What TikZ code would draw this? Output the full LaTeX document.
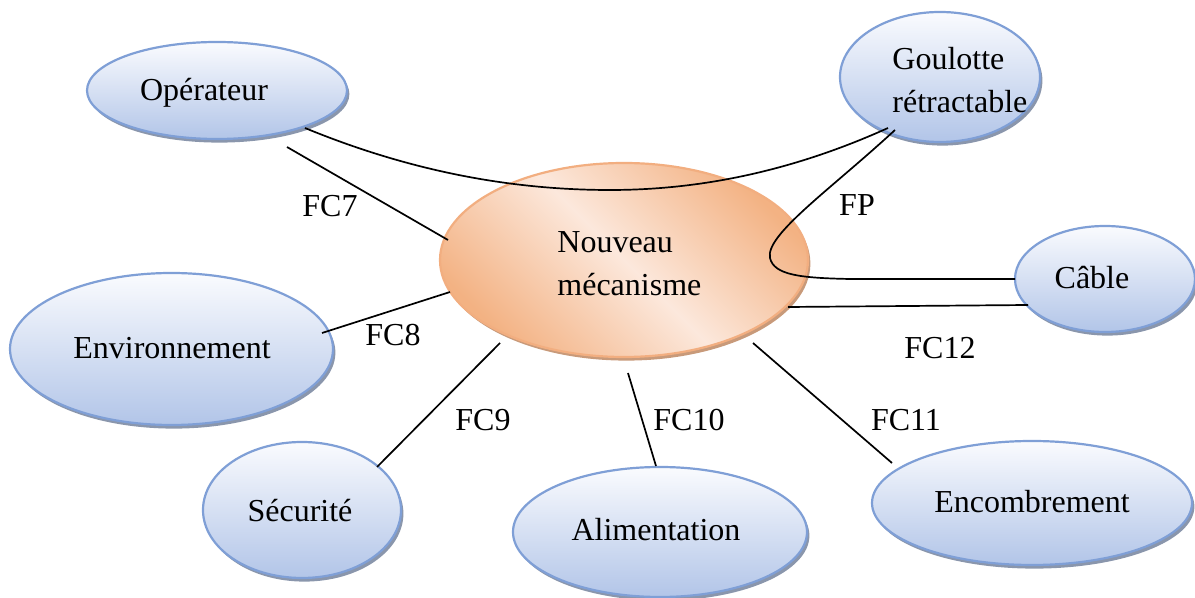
\documentclass[tikz,border=0pt]{standalone}
\usepackage{fontspec}
\setmainfont{Liberation Serif}
\usetikzlibrary{shapes.geometric,shadows,calc}
\definecolor{bluedge}{HTML}{7F9FD6}
\definecolor{bluetop}{HTML}{FAFBFE}
\definecolor{bluebot}{HTML}{B2C5E8}
\definecolor{orgedge}{HTML}{F2AE80}
\definecolor{orgdark}{HTML}{F3B283}
\definecolor{orglight}{HTML}{FCE8DC}
\definecolor{shadowc}{HTML}{8A96AC}
\definecolor{shadoworg}{HTML}{C89A7A}
\begin{document}
\begin{tikzpicture}[x=0.5pt,y=-0.5pt,
  bubble/.style={ellipse, draw=bluedge, line width=1.1pt, top color=bluetop, bottom color=bluebot, inner sep=0pt,
    drop shadow={shadow xshift=1.2pt, shadow yshift=-1.8pt, fill=shadowc, opacity=1}},
  central/.style={ellipse, draw=orgedge, line width=1.1pt, inner sep=0pt,
    top color=orgdark, bottom color=orgdark, middle color=orglight, shading angle=135,
    drop shadow={shadow xshift=1.2pt, shadow yshift=-1.8pt, fill=shadoworg, opacity=1}},
  txt/.style={inner sep=0pt, font=\fontsize{16}{21.5}\selectfont, align=left},
  conn/.style={draw=black, line width=0.85pt}]
\useasboundingbox (0,0) rectangle (1195,598);

% ellipses
\node[bubble, minimum width=130pt, minimum height=48.5pt] (op) at (217,90.5) {};
\node[bubble, minimum width=100pt, minimum height=65pt] (go) at (940,77) {};
\node[bubble, minimum width=90pt, minimum height=53pt] (ca) at (1105,279) {};
\node[bubble, minimum width=161.5pt, minimum height=76pt] (env) at (171.5,349) {};
\node[bubble, minimum width=99pt, minimum height=68pt] (se) at (302,510) {};
\node[bubble, minimum width=147pt, minimum height=65pt] (al) at (660,532) {};
\node[bubble, minimum width=160pt, minimum height=62pt] (en) at (1032,503) {};
\node[central, minimum width=184pt, minimum height=97pt] (nm) at (624,260) {};

% texts
\node[txt] (opT) at (204,93) {Opérateur};
\node[txt, anchor=west] (goT) at (892,80) {Goulotte\\rétractable};
\node[txt] (caT) at (1092,278) {Câble};
\node[txt] (envT) at (172,348) {Environnement};
\node[txt] (seT) at (300,511) {Sécurité};
\node[txt] (alT) at (656,530) {Alimentation};
\node[txt] (enT) at (1032,502) {Encombrement};
\node[txt, anchor=west] (nmT) at (557,264) {Nouveau\\mécanisme};

% connectors
\draw[conn] ([shift={(88,37.5)}]op.center) .. controls (407,170) and (508,190) .. (610,190)
  .. controls (703,190) and (795,170) .. ([shift={(-52,51)}]go.center);
\draw[conn] ([shift={(-45,53)}]go.center) .. controls (830,190) and (765,235) .. (770,258)
  .. controls (774,275) and (800,278) .. (850,279) -- ([shift={(-90,0)}]ca.center);
\draw[conn] ([shift={(70,56.5)}]op.center) -- ([shift={(-176,-20)}]nm.center);
\draw[conn] ([shift={(150.5,-16)}]env.center) -- ([shift={(-174,32)}]nm.center);
\draw[conn] ([shift={(75,-43)}]se.center) -- ([shift={(-124,83)}]nm.center);
\draw[conn] ([shift={(-4,-66)}]al.center) -- ([shift={(4,113)}]nm.center);
\draw[conn] ([shift={(-140,-40)}]en.center) -- ([shift={(129,83)}]nm.center);
\draw[conn] ([shift={(-77,26)}]ca.center) -- ([shift={(164,47)}]nm.center);

% labels
\node[txt] (lfp) at (857,205) {FP};
\node[txt] (l7) at (330,206) {FC7};
\node[txt] (l8) at (393,335) {FC8};
\node[txt] (l9) at (483,420) {FC9};
\node[txt] (l10) at (689,420) {FC10};
\node[txt] (l11) at (906,420) {FC11};
\node[txt] (l12) at (940,348) {FC12};
\end{tikzpicture}
\end{document}
